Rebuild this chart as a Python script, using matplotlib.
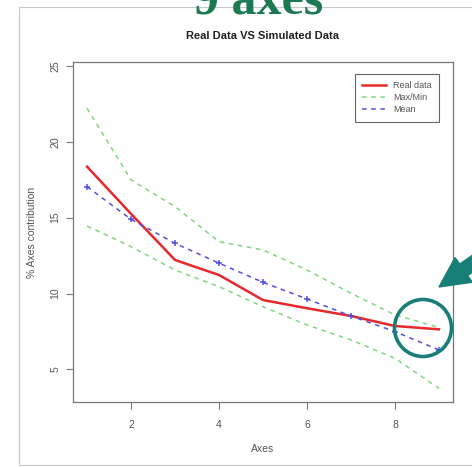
import matplotlib
matplotlib.use("Agg")
import matplotlib.pyplot as plt
from matplotlib.patches import Circle, FancyArrow, Rectangle
from matplotlib.transforms import IdentityTransform

# values
axes_idx = [1, 2, 3, 4, 5, 6, 7, 8, 9]
real_data = [18.36, 15.25, 12.21, 11.22, 9.57, 9.03, 8.52, 7.86, 7.64]
sim_mean = [17.04, 14.89, 13.31, 12.00, 10.74, 9.64, 8.52, 7.49, 6.28]
sim_max = [22.21, 17.49, 15.73, 13.42, 12.87, 11.55, 10.02, 8.59, 7.77]
sim_min = [14.45, 13.09, 11.55, 10.45, 9.13, 7.93, 6.94, 5.73, 3.75]
x_ticks = [2, 4, 6, 8]
y_ticks = [5, 10, 15, 20, 25]

W, H = 472, 467
plt.rcParams["font.family"] = ["Liberation Sans", "DejaVu Sans"]
fig = plt.figure(figsize=(W / 100, H / 100), dpi=100)

# slide frame and heading (heading is cut off at the top in the source slide)
fig.patches.append(Rectangle((19, H - 465), 480, 458, transform=IdentityTransform(),
                             fill=False, ec="#c8c8c8", lw=0.8))
fig.text(259 / W, 1 - 14 / H, "9 axes", ha="center", va="baseline",
         fontsize=36, fontweight="bold", color="#1c7a52",
         family=["Liberation Serif", "DejaVu Serif"])

ax = fig.add_axes([73 / W, 1 - 402 / H, 380 / W, 340 / H])

ax.plot(axes_idx, real_data, color="#e8282c", lw=1.8, label="Real data")
ax.plot(axes_idx, sim_max, color="#80d880", lw=1.1, ls=(0, (3, 3)), label="Max/Min")
ax.plot(axes_idx, sim_min, color="#80d880", lw=1.1, ls=(0, (3, 3)))
ax.plot(axes_idx, sim_mean, color="#5050e0", lw=1.1, ls=(0, (3, 3)), label="Mean")
ax.plot(axes_idx, sim_mean, ls="none", color="#5050e0", marker="+", ms=5, mew=1.1)

ax.set_xlim(0.68, 9.32)
ax.set_ylim(2.85, 25.26)
ax.set_xticks(x_ticks)
ax.set_yticks(y_ticks)
ax.tick_params(labelsize=7.5, labelcolor="#555555", color="#777777", length=5, width=0.8)
ax.tick_params(axis="x", pad=8)
ax.tick_params(axis="y", pad=4)
for lbl in ax.get_yticklabels():
    lbl.set_rotation(90)
    lbl.set_va("center")
for sp in ax.spines.values():
    sp.set_color("#777777")
    sp.set_linewidth(0.9)

ax.set_xlabel("Axes", fontsize=7.5, color="#555555", labelpad=10)
ax.set_ylabel("% Axes contribution", fontsize=7.5, color="#555555", labelpad=10)
fig.text(263 / W, 1 - 36 / H, "Real Data VS Simulated Data", ha="center", va="center",
         fontsize=8, fontweight="bold", color="#222222")

leg = ax.legend(loc="upper right", bbox_to_anchor=(0.963, 0.965), borderaxespad=0,
                fontsize=6.5, fancybox=False, framealpha=1, edgecolor="#666666",
                handlelength=2.6, labelspacing=0.35, borderpad=0.8)
for t in leg.get_texts():
    t.set_color("#555555")
leg.get_frame().set_linewidth(0.8)

# annotation marks from the slide
fig.patches.append(Circle((423, H - 328), 28.5, transform=IdentityTransform(),
                          fill=False, ec="#177f77", lw=2.6))
fig.patches.append(FancyArrow(521, H - 230, -82, -57, width=14, head_width=30,
                              head_length=30, length_includes_head=True,
                              transform=IdentityTransform(), color="#177f77"))

fig.savefig("out.png", dpi=100)
